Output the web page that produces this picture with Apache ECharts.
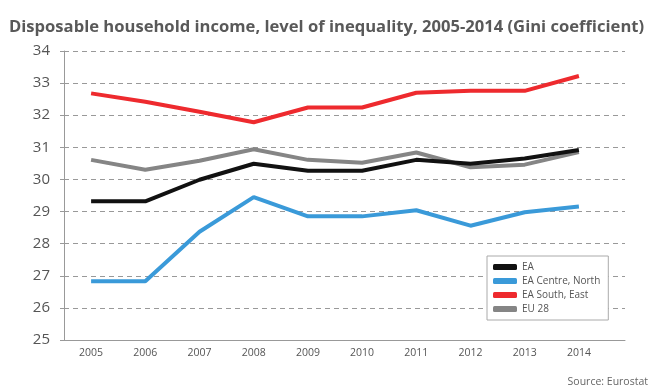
<!DOCTYPE html>
<html><head><meta charset="utf-8">
<script src="https://cdn.jsdelivr.net/npm/echarts@6/dist/echarts.min.js"></script>
<style>html,body{margin:0;padding:0;background:#fff}#c{width:661px;height:391px}</style>
</head><body><div id="c"></div>
<script>
const years = ['2005','2006','2007','2008','2009','2010','2011','2012','2013','2014'];
const ea = [29.32, 29.32, 29.99, 30.49, 30.27, 30.27, 30.61, 30.49, 30.65, 30.92];
const eaCentreNorth = [26.83, 26.83, 28.37, 29.45, 28.85, 28.85, 29.04, 28.56, 28.98, 29.16];
const eaSouthEast = [32.68, 32.42, 32.11, 31.78, 32.24, 32.24, 32.70, 32.76, 32.76, 33.22];
const eu28 = [30.61, 30.30, 30.58, 30.94, 30.61, 30.52, 30.84, 30.38, 30.46, 30.85];
const yTicks = [25, 26, 27, 28, 29, 30, 31, 32, 33, 34];

const chart = echarts.init(document.getElementById('c'));
const txt = '#555';
const font = 'Open Sans';
chart.setOption({
  animation: false,
  title: [
    {text: 'Disposable household income, level of inequality, 2005-2014 (Gini coefficient)', left: 4, top: 14,
     textStyle: {fontFamily: font, fontWeight: 'bold', fontSize: 16.6, color: '#595959'}},
    {text: 'Source: Eurostat', right: 8, top: 372,
     textStyle: {fontFamily: font, fontWeight: 'normal', fontSize: 10.5, color: '#666'}}
  ],
  grid: [
    {left: 64, right: 36, top: 51, height: 289},
    {left: 64, width: 542, top: 51, height: 289}
  ],
  xAxis: [
    {gridIndex: 0, type: 'value', min: 0, max: 1, axisLabel: {show: false}, splitLine: {show: false},
     axisLine: {show: true, lineStyle: {color: '#999', width: 1}}, axisTick: {show: false}},
    {gridIndex: 1, type: 'category', data: years, boundaryGap: true,
     axisLine: {show: false}, axisTick: {show: false},
     axisLabel: {color: txt, fontFamily: font, fontSize: 10.5, margin: 8}}
  ],
  yAxis: [
    {gridIndex: 0, type: 'value', min: 25, max: 34, interval: 1,
     axisLine: {show: true, lineStyle: {color: '#999'}},
     axisTick: {show: true, length: 4, lineStyle: {color: '#999'}},
     axisLabel: {color: txt, fontFamily: font, fontSize: 15, margin: 14,
       formatter: v => yTicks.includes(v) ? String(v) : ''},
     splitLine: {show: true, lineStyle: {color: '#999', type: [5, 4], width: 1}}},
    {gridIndex: 1, type: 'value', min: 25, max: 34, interval: 1, show: false, splitLine: {show: false}}
  ],
  legend: {
    orient: 'vertical', left: 487, top: 256, width: 122, height: 68,
    backgroundColor: '#fff', borderColor: '#aaa', borderWidth: 1,
    padding: [6, 8, 6, 6], itemGap: 4, itemWidth: 24, itemHeight: 6,
    icon: 'roundRect',
    textStyle: {color: txt, fontFamily: font, fontSize: 10},
    data: ['EA', 'EA Centre, North', 'EA South, East', 'EU 28']
  },
  series: [
    {name: 'EU 28', type: 'line', xAxisIndex: 1, yAxisIndex: 1, data: eu28, symbol: 'none',
     lineStyle: {color: '#858585', width: 4}, itemStyle: {color: '#858585'}},
    {name: 'EA', type: 'line', xAxisIndex: 1, yAxisIndex: 1, data: ea, symbol: 'none',
     lineStyle: {color: '#111', width: 4}, itemStyle: {color: '#111'}},
    {name: 'EA Centre, North', type: 'line', xAxisIndex: 1, yAxisIndex: 1, data: eaCentreNorth, symbol: 'none',
     lineStyle: {color: '#3a9ad9', width: 4}, itemStyle: {color: '#3a9ad9'}},
    {name: 'EA South, East', type: 'line', xAxisIndex: 1, yAxisIndex: 1, data: eaSouthEast, symbol: 'none',
     lineStyle: {color: '#ee2a2e', width: 4}, itemStyle: {color: '#ee2a2e'}}
  ]
});
</script></body></html>
